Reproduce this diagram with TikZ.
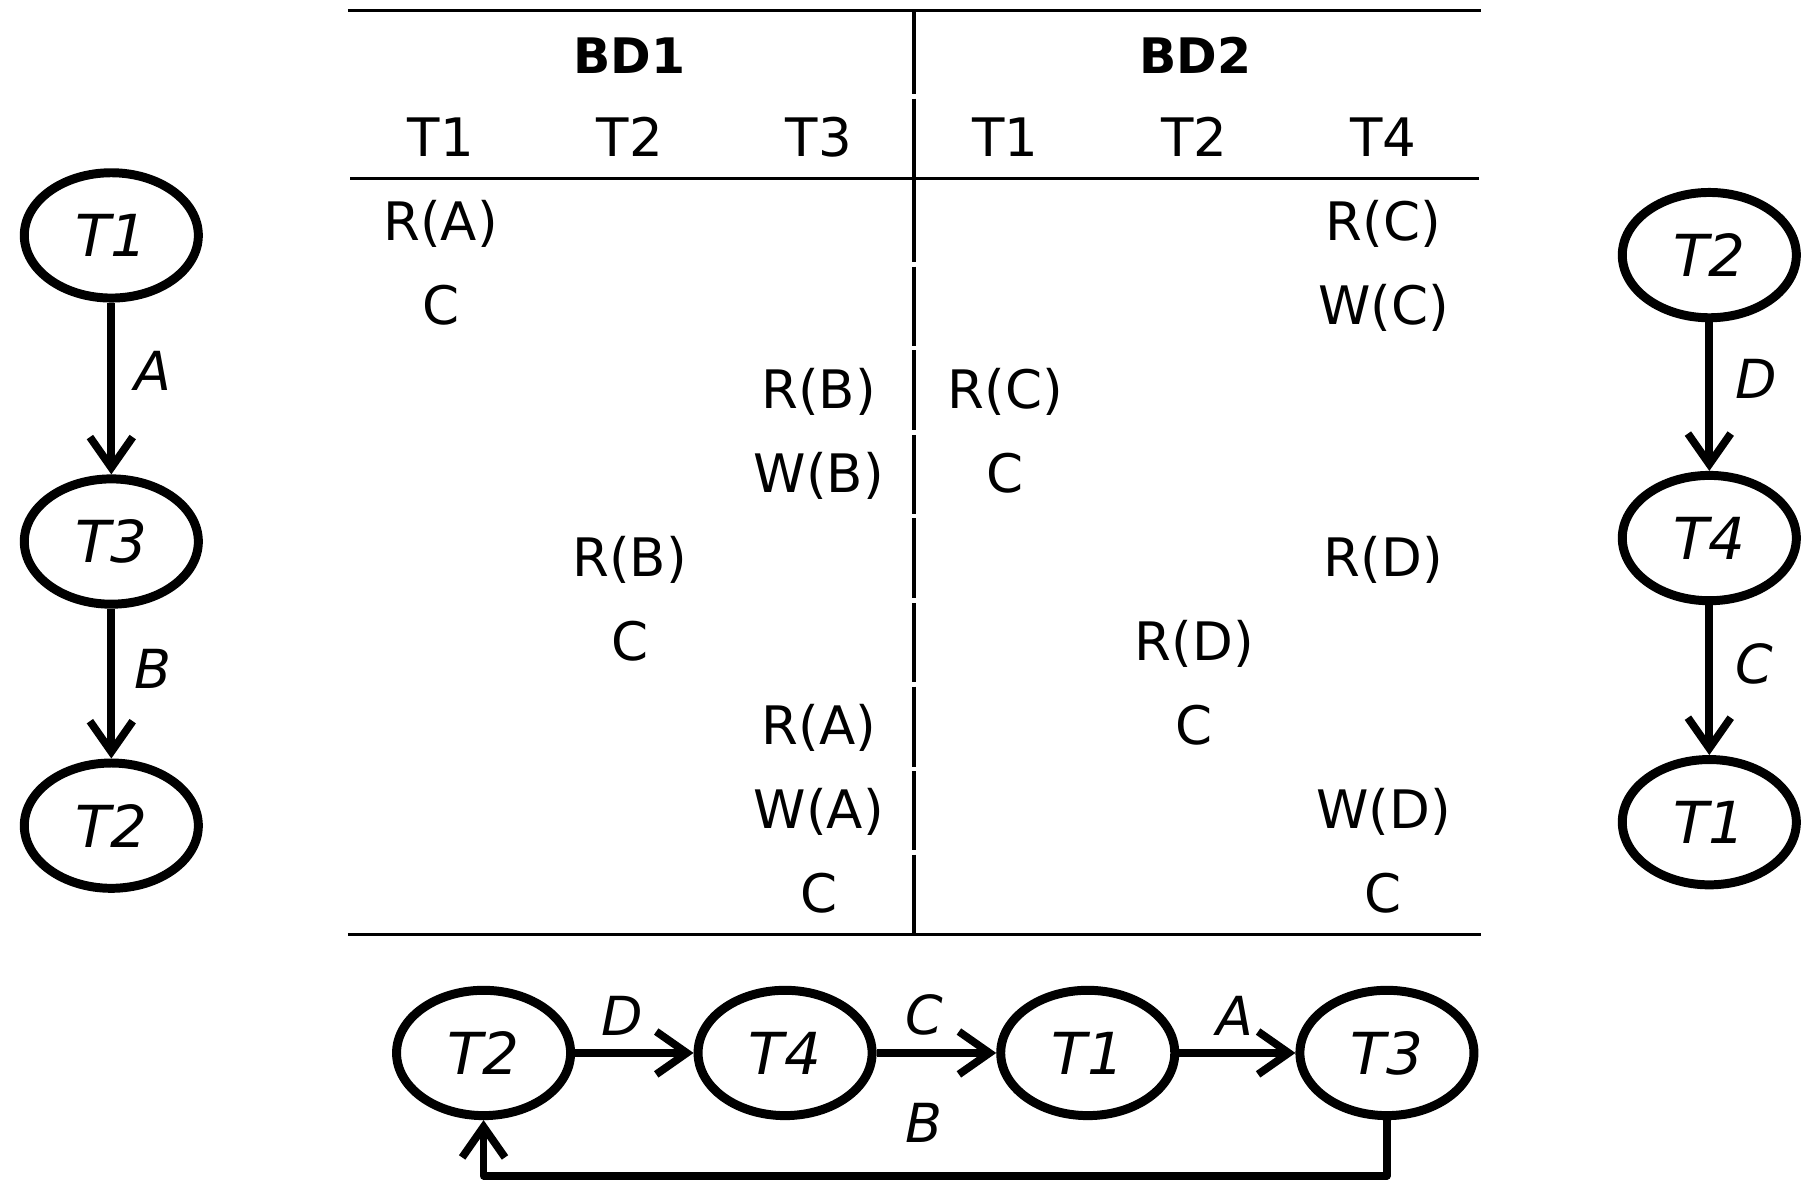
\documentclass[tikz,border=0pt]{standalone}
\usepackage{fontspec}
\setmainfont{DejaVu Sans}[ItalicFont={DejaVu Sans Oblique},BoldFont={DejaVu Sans Bold}]
\usetikzlibrary{arrows.meta}
\usetikzlibrary{shapes.geometric}

\begin{document}
\begin{tikzpicture}[x=0.01cm,y=-0.01cm,
	trans/.style={ellipse,draw,line width=2.2pt,minimum width=1.50cm,minimum height=1.08cm,inner sep=0pt,font=\fontsize{14.2}{16}\selectfont\itshape},
	conflict/.style={line width=1.9pt,-{Straight Barb[length=7.5pt,width=10.5pt]}},
	lbl/.style={inner sep=0pt,font=\fontsize{13.2}{15}\selectfont\itshape},
	op/.style={anchor=base,inner sep=0pt,font=\fontsize{13}{15}\selectfont},
	rule/.style={line width=0.85pt}]
\useasboundingbox (0,0) rectangle (1566,1038.2);

% table of the two schedules
\draw[rule] (300,9) -- (1277,9);
\draw[rule] (302,154) -- (1275,154);
\draw[rule] (300,806) -- (1277,806);
\foreach \a/\b in {9/81,85/226,230/298,302/371,375/443,447/516,520/588,592/661,665/733,737/806}
	\draw[rule] (788,\a) -- (788,\b);

\node[op,font=\fontsize{12}{15}\selectfont\bfseries] (bd1) at (543,63) {BD1};
\node[op,font=\fontsize{12}{15}\selectfont\bfseries] (bd2) at (1031,63) {BD2};
\foreach \x/\t [count=\i] in {380/T1,543/T2,706/T3,867/T1,1030/T2,1193/T4}
	\node[op] (h\i) at (\x,135) {\t};
\foreach \x/\r/\t [count=\i] in {380/2/R(A),380/3/C,706/4/R(B),706/5/W(B),543/6/R(B),543/7/C,706/8/R(A),706/9/W(A),706/10/C,
	1193/2/R(C),1193/3/W(C),867/4/R(C),867/5/C,1193/6/R(D),1030/7/R(D),1030/8/C,1193/9/W(D),1193/10/C}
	\node[op] (o\i) at ({\x},{63+72.4*\r}) {\t};

% graph of BD1
\node[trans] (l1) at (96,203) {T1};
\node[trans] (l3) at (96,467) {T3};
\node[trans] (l2) at (96,712) {T2};
\draw[conflict] (l1) -- node[lbl,right=0.17cm,pos=0.4] (la) {A} (l3);
\draw[conflict] (l3) -- node[lbl,right=0.17cm,pos=0.4] (lb) {B} (l2);

% graph of BD2
\node[trans] (r2) at (1474,220) {T2};
\node[trans] (r4) at (1474,464) {T4};
\node[trans] (r1) at (1474,709) {T1};
\draw[conflict] (r2) -- node[lbl,right=0.19cm,pos=0.38] (rd) {D} (r4);
\draw[conflict] (r4) -- node[lbl,right=0.19cm,pos=0.39] (rc) {C} (r1);

% global graph
\node[trans] (b2) at (417,908) {T2};
\node[trans] (b4) at (677,908) {T4};
\node[trans] (b1) at (938,908) {T1};
\node[trans] (b3) at (1196,908) {T3};
\draw[conflict] (b2) -- node[lbl,above=0.12cm,pos=0.4] (bd) {D} (b4);
\draw[conflict] (b4) -- node[lbl,above=0.12cm,pos=0.4] (bc) {C} (b1);
\draw[conflict] (b1) -- node[lbl,above=0.12cm,pos=0.48] (ba) {A} (b3);
\draw[conflict,line join=round] (b3.south) -- ++(0,48) -| node[lbl,above=0.25cm,pos=0.256] (bb) {B} (b2.south);

\end{tikzpicture}
\end{document}
